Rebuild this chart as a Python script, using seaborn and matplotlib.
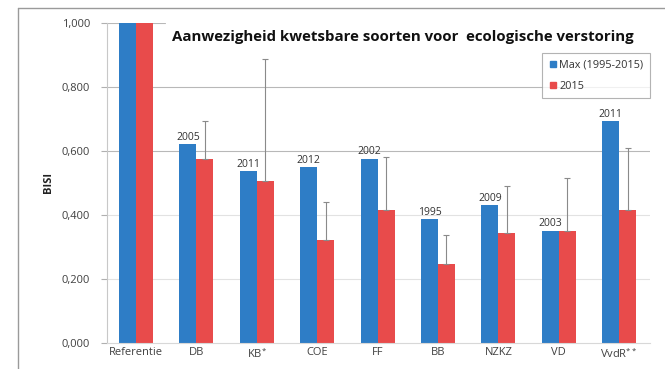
import matplotlib
matplotlib.use("Agg")
import matplotlib.pyplot as plt
from matplotlib.lines import Line2D
import seaborn as sns
import pandas as pd

# BISI per area: maximum over 1995-2015 and the 2015 value
categories = ["Referentie", "DB", "KB", "COE", "FF", "BB", "NZKZ", "VD", "VvdR"]
max_values = [1.000, 0.621, 0.537, 0.549, 0.575, 0.387, 0.430, 0.351, 0.693]
values_2015 = [1.000, 0.574, 0.507, 0.322, 0.415, 0.247, 0.342, 0.349, 0.415]
upper_err_2015 = [0.0, 0.119, 0.379, 0.119, 0.167, 0.090, 0.148, 0.167, 0.193]
max_years = ["", "2005", "2011", "2012", "2002", "1995", "2009", "2003", "2011"]
tick_labels = ["Referentie", "DB", "KB$^{*}$", "COE", "FF", "BB", "NZKZ", "VD", "VvdR$^{**}$"]
series_names = ["Max (1995-2015)", "2015"]
y_ticks = [0.0, 0.2, 0.4, 0.6, 0.8, 1.0]

blue = "#2E7DC6"
red = "#E84B4B"

df = pd.DataFrame({
    "gebied": categories * 2,
    "BISI": max_values + values_2015,
    "reeks": [series_names[0]] * len(categories) + [series_names[1]] * len(categories),
})

sns.set_theme(style="white")
plt.rcParams["font.family"] = ["Open Sans", "DejaVu Sans"]
plt.rcParams["mathtext.default"] = "regular"

fig = plt.figure(figsize=(6.65, 3.69), dpi=100)
ax = fig.add_axes([107 / 665, 1 - 343 / 369, 543 / 665, (343 - 22.7) / 369])

sns.barplot(data=df, x="gebied", y="BISI", hue="reeks", order=categories,
            hue_order=series_names, palette=[blue, red], width=0.56,
            saturation=1, ax=ax, legend=False, errorbar=None, linewidth=0)

# one-sided error bars on the 2015 bars
red_bars = ax.containers[1]
xs = [p.get_x() + p.get_width() / 2 for p in red_bars]
for x, v, e in zip(xs, values_2015, upper_err_2015):
    if e > 0:
        ax.errorbar(x, v, yerr=[[0], [e]], fmt="none", ecolor="#8a8a8a",
                    elinewidth=0.8, capsize=2.2, capthick=0.8, zorder=3)

# year of the maximum above the blue bars
ax.bar_label(ax.containers[0], labels=max_years, fontsize=7.5, color="#333333", padding=1)

ax.set_xlim(-0.48, 8.51)
ax.set_ylim(0, 1.0)
ax.set_yticks(y_ticks)
ax.set_yticklabels([f"{t:.3f}".replace(".", ",") for t in y_ticks])
ax.set_xticks(range(len(categories)))
ax.set_xticklabels(tick_labels)
ax.tick_params(axis="both", labelsize=8, labelcolor="#404040")
ax.tick_params(axis="y", length=4, color="#b0b0b0", width=0.8, pad=8, direction="out", left=True)
ax.tick_params(axis="x", length=0, pad=3)
ax.set_xlabel("")
ax.set_ylabel("BISI", fontsize=8, fontweight="bold", color="#222222", labelpad=6)

# horizontal gridlines
for t in [0.2, 0.4]:
    ax.axhline(t, color="#e2e2e2", lw=0.8, zorder=0)
for t in [0.6, 0.8]:
    ax.axhline(t, color="#b8b8b8", lw=0.8, zorder=0)
ax.axhline(1.0, xmax=(165 - 107) / 543, color="#b8b8b8", lw=0.8, zorder=0)

for side in ["top", "right"]:
    ax.spines[side].set_visible(False)
ax.spines["left"].set_color("#c8c8c8")
ax.spines["bottom"].set_color("#d8d8d8")
ax.spines["left"].set_linewidth(0.8)
ax.spines["bottom"].set_linewidth(0.8)

# legend
handles = [Line2D([], [], marker="s", linestyle="none", markersize=5, color=c) for c in [blue, red]]
leg = ax.legend(handles, series_names, loc="upper right", bbox_to_anchor=(1.0, 0.905),
                fontsize=7.8, frameon=True, fancybox=False, handletextpad=0.2,
                handlelength=0.8, borderpad=0.6, labelspacing=0.95, borderaxespad=0)
leg.get_frame().set_edgecolor("#a0a0a0")
leg.get_frame().set_linewidth(0.8)
for txt in leg.get_texts():
    txt.set_color("#333333")

# title
fig.text(172 / 665, 1 - 37 / 369, "Aanwezigheid kwetsbare soorten voor  ecologische verstoring",
         fontsize=10.85, fontweight="bold", color="#111111", ha="left", va="center")

# chart frame
fig.add_artist(Line2D([18 / 665, 1.0], [1 - 8 / 369, 1 - 8 / 369], color="#9a9a9a", lw=1.0))
fig.add_artist(Line2D([18 / 665, 18 / 665], [0, 1 - 8 / 369], color="#9a9a9a", lw=1.0))

fig.savefig("out.png", dpi=100)
